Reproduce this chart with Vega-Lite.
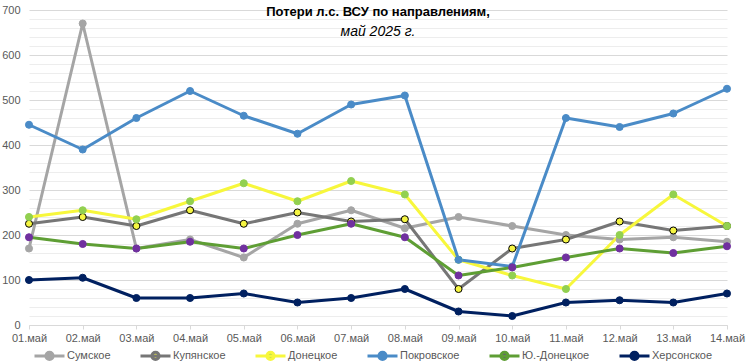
{
  "$schema": "https://vega.github.io/schema/vega-lite/v6.json",
  "width": 698,
  "height": 315,
  "autosize": {"type": "none"},
  "padding": {"left": 29, "top": 10, "right": 20, "bottom": 39},
  "background": "white",
  "title": {
    "text": "Потери л.с. ВСУ по направлениям,",
    "subtitle": "май 2025 г.",
    "anchor": "middle",
    "frame": "group",
    "offset": -35,
    "font": "Liberation Sans",
    "fontSize": 13,
    "fontWeight": "bold",
    "color": "#000000",
    "subtitleFont": "Liberation Sans",
    "subtitleFontSize": 14,
    "subtitleFontStyle": "italic",
    "subtitleColor": "#000000",
    "subtitlePadding": 6
  },
  "config": {
    "view": {"stroke": null},
    "font": "Liberation Sans"
  },
  "data": {
    "values": [
      {"d": "01.май", "s": "Сумское", "v": 170}, {"d": "02.май", "s": "Сумское", "v": 670}, {"d": "03.май", "s": "Сумское", "v": 170}, {"d": "04.май", "s": "Сумское", "v": 190}, {"d": "05.май", "s": "Сумское", "v": 150}, {"d": "06.май", "s": "Сумское", "v": 225}, {"d": "07.май", "s": "Сумское", "v": 255}, {"d": "08.май", "s": "Сумское", "v": 215}, {"d": "09.май", "s": "Сумское", "v": 240}, {"d": "10.май", "s": "Сумское", "v": 220}, {"d": "11.май", "s": "Сумское", "v": 200}, {"d": "12.май", "s": "Сумское", "v": 190}, {"d": "13.май", "s": "Сумское", "v": 195}, {"d": "14.май", "s": "Сумское", "v": 185},
      {"d": "01.май", "s": "Купянское", "v": 225}, {"d": "02.май", "s": "Купянское", "v": 240}, {"d": "03.май", "s": "Купянское", "v": 220}, {"d": "04.май", "s": "Купянское", "v": 255}, {"d": "05.май", "s": "Купянское", "v": 225}, {"d": "06.май", "s": "Купянское", "v": 250}, {"d": "07.май", "s": "Купянское", "v": 230}, {"d": "08.май", "s": "Купянское", "v": 235}, {"d": "09.май", "s": "Купянское", "v": 80}, {"d": "10.май", "s": "Купянское", "v": 170}, {"d": "11.май", "s": "Купянское", "v": 190}, {"d": "12.май", "s": "Купянское", "v": 230}, {"d": "13.май", "s": "Купянское", "v": 210}, {"d": "14.май", "s": "Купянское", "v": 220},
      {"d": "01.май", "s": "Донецкое", "v": 240}, {"d": "02.май", "s": "Донецкое", "v": 255}, {"d": "03.май", "s": "Донецкое", "v": 235}, {"d": "04.май", "s": "Донецкое", "v": 275}, {"d": "05.май", "s": "Донецкое", "v": 315}, {"d": "06.май", "s": "Донецкое", "v": 275}, {"d": "07.май", "s": "Донецкое", "v": 320}, {"d": "08.май", "s": "Донецкое", "v": 290}, {"d": "09.май", "s": "Донецкое", "v": 145}, {"d": "10.май", "s": "Донецкое", "v": 110}, {"d": "11.май", "s": "Донецкое", "v": 80}, {"d": "12.май", "s": "Донецкое", "v": 200}, {"d": "13.май", "s": "Донецкое", "v": 290}, {"d": "14.май", "s": "Донецкое", "v": 220},
      {"d": "01.май", "s": "Покровское", "v": 445}, {"d": "02.май", "s": "Покровское", "v": 390}, {"d": "03.май", "s": "Покровское", "v": 460}, {"d": "04.май", "s": "Покровское", "v": 520}, {"d": "05.май", "s": "Покровское", "v": 465}, {"d": "06.май", "s": "Покровское", "v": 425}, {"d": "07.май", "s": "Покровское", "v": 490}, {"d": "08.май", "s": "Покровское", "v": 510}, {"d": "09.май", "s": "Покровское", "v": 145}, {"d": "10.май", "s": "Покровское", "v": 130}, {"d": "11.май", "s": "Покровское", "v": 460}, {"d": "12.май", "s": "Покровское", "v": 440}, {"d": "13.май", "s": "Покровское", "v": 470}, {"d": "14.май", "s": "Покровское", "v": 525},
      {"d": "01.май", "s": "Ю.-Донецкое", "v": 195}, {"d": "02.май", "s": "Ю.-Донецкое", "v": 180}, {"d": "03.май", "s": "Ю.-Донецкое", "v": 170}, {"d": "04.май", "s": "Ю.-Донецкое", "v": 185}, {"d": "05.май", "s": "Ю.-Донецкое", "v": 170}, {"d": "06.май", "s": "Ю.-Донецкое", "v": 200}, {"d": "07.май", "s": "Ю.-Донецкое", "v": 225}, {"d": "08.май", "s": "Ю.-Донецкое", "v": 195}, {"d": "09.май", "s": "Ю.-Донецкое", "v": 110}, {"d": "10.май", "s": "Ю.-Донецкое", "v": 128}, {"d": "11.май", "s": "Ю.-Донецкое", "v": 150}, {"d": "12.май", "s": "Ю.-Донецкое", "v": 170}, {"d": "13.май", "s": "Ю.-Донецкое", "v": 160}, {"d": "14.май", "s": "Ю.-Донецкое", "v": 175},
      {"d": "01.май", "s": "Херсонское", "v": 100}, {"d": "02.май", "s": "Херсонское", "v": 105}, {"d": "03.май", "s": "Херсонское", "v": 60}, {"d": "04.май", "s": "Херсонское", "v": 60}, {"d": "05.май", "s": "Херсонское", "v": 70}, {"d": "06.май", "s": "Херсонское", "v": 50}, {"d": "07.май", "s": "Херсонское", "v": 60}, {"d": "08.май", "s": "Херсонское", "v": 80}, {"d": "09.май", "s": "Херсонское", "v": 30}, {"d": "10.май", "s": "Херсонское", "v": 20}, {"d": "11.май", "s": "Херсонское", "v": 50}, {"d": "12.май", "s": "Херсонское", "v": 55}, {"d": "13.май", "s": "Херсонское", "v": 50}, {"d": "14.май", "s": "Херсонское", "v": 70}
    ]
  },
  "encoding": {
    "x": {
      "field": "d",
      "type": "ordinal",
      "sort": null,
      "scale": {"type": "point", "padding": 0},
      "axis": {
        "title": null,
        "labelAngle": 0,
        "labelFontSize": 11,
        "labelColor": "#595959",
        "labelPadding": 3,
        "domainColor": "#d9d9d9",
        "tickColor": "#d9d9d9",
        "tickSize": 4,
        "grid": false
      }
    },
    "y": {
      "field": "v",
      "type": "quantitative",
      "scale": {"domain": [0, 700], "nice": false},
      "axis": {
        "title": null,
        "values": [0, 20, 40, 60, 80, 100, 120, 140, 160, 180, 200, 220, 240, 260, 280, 300, 320, 340, 360, 380, 400, 420, 440, 460, 480, 500, 520, 540, 560, 580, 600, 620, 640, 660, 680, 700],
        "labelExpr": "datum.value % 100 === 0 ? datum.label : ''",
        "labelFontSize": 11,
        "labelColor": "#595959",
        "labelPadding": 9,
        "ticks": false,
        "domain": false,
        "grid": true,
        "gridColor": {"condition": {"test": "datum.value % 100 === 0", "value": "#d9d9d9"}, "value": "#ededed"},
        "gridWidth": 1
      }
    }
  },
  "layer": [
    {
      "mark": {"type": "line", "strokeWidth": 3, "strokeCap": "round", "strokeJoin": "round"},
      "encoding": {
        "color": {
          "field": "s",
          "type": "nominal",
          "scale": {
            "domain": ["Сумское", "Купянское", "Донецкое", "Покровское", "Ю.-Донецкое", "Херсонское"],
            "range": ["#a5a5a5", "#767676", "#f7f73c", "#4a8bc7", "#5e9e34", "#002060"]
          },
          "legend": {
            "title": null,
            "orient": "none",
            "direction": "horizontal",
            "legendX": 4,
            "legendY": 329,
            "padding": 0,
            "columnPadding": 23,
            "labelFontSize": 11,
            "labelColor": "#595959",
            "labelOffset": 1,
            "symbolType": "M-1,0L1,0M0.24,0A0.24,0.24,0,1,1,-0.24,0A0.24,0.24,0,1,1,0.24,0Z",
            "symbolSize": 900,
            "symbolStrokeWidth": 3,
            "encode": {
              "symbols": {"update": {"fill": {"scale": "fill", "field": "value"}, "opacity": {"value": 1}}}
            }
          }
        }
      }
    },
    {
      "mark": {"type": "point", "filled": true, "size": 50, "opacity": 1, "strokeWidth": 1},
      "encoding": {
        "fill": {
          "field": "s",
          "type": "nominal",
          "scale": {
            "domain": ["Сумское", "Купянское", "Донецкое", "Покровское", "Ю.-Донецкое", "Херсонское"],
            "range": ["#a5a5a5", "#f5f542", "#92d050", "#4a8bc7", "#70309f", "#002060"]
          },
          "legend": null
        },
        "stroke": {
          "field": "s",
          "type": "nominal",
          "scale": {
            "domain": ["Сумское", "Купянское", "Донецкое", "Покровское", "Ю.-Донецкое", "Херсонское"],
            "range": ["#a5a5a5", "#000000", "#92d050", "#4a8bc7", "#70309f", "#002060"]
          },
          "legend": null
        }
      }
    }
  ]
}
